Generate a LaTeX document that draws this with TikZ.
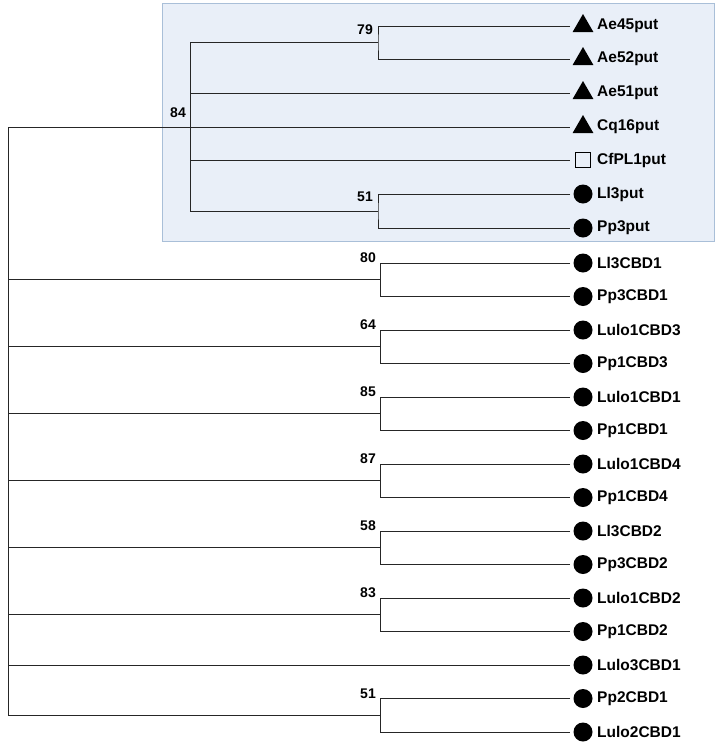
\documentclass[tikz,border=0pt]{standalone}
\usepackage{fontspec}
\setmainfont{Liberation Sans}
\usetikzlibrary{shapes.geometric}
\definecolor{boxfill}{HTML}{E9EFF8}
\definecolor{boxline}{HTML}{A9BFD8}
\begin{document}
\begin{tikzpicture}[x=1pt,y=-1pt,
  br/.style={line width=0.9pt,black!85},
  lab/.style={anchor=west,font=\bfseries\fontsize{15.5}{16}\selectfont,inner sep=0pt},
  bs/.style={anchor=east,font=\bfseries\fontsize{14}{14}\selectfont,inner sep=0pt},
  tri/.style={regular polygon,regular polygon sides=3,fill=black,minimum size=24pt,inner sep=0pt},
  dot/.style={circle,fill=black,minimum width=17pt,minimum height=19pt,inner sep=0pt},
  sq/.style={draw=black,line width=1.8pt,minimum size=15pt,inner sep=0pt}]
\useasboundingbox (0,0) rectangle (716,745);
\draw[boxline,fill=boxfill,line width=0.8pt] (162,3) rectangle (714,241);
\foreach \n/\t/\y/\s in {a/Ae45put/26/tri,b/Ae52put/59/tri,c/Ae51put/93/tri,d/Cq16put/127/tri,e/CfPL1put/160/sq,f/Ll3put/194/dot,g/Pp3put/228/dot}{
  \node[\s] (s\n) at (583,\y) {};
  \node[lab] (l\n) at (597,\y) {\t};
  \coordinate (e\n) at (570,\y);
}
\coordinate (j79) at (378,42);
\coordinate (j51a) at (378,211);
\coordinate (j84) at (190,127);
\coordinate (root) at (8,127);
\draw[br] (ea) -| (j79) |- (eb);
\draw[br] (ef) -| (j51a) |- (eg);
\draw[br] (j79) -- (190,42) -- (190,211) -- (j51a);
\draw[br] (190,93) -- (ec);
\draw[br] (190,160) -- (ee);
\draw[br] (root) -- (ed);
\node[bs] at (186,113) {84};
\node[bs] at (373,30) {79};
\node[bs] at (373,197) {51};
\foreach \t [count=\i from 0] in {Ll3CBD1,Pp3CBD1,Lulo1CBD3,Pp1CBD3,Lulo1CBD1,Pp1CBD1,Lulo1CBD4,Pp1CBD4,Ll3CBD2,Pp3CBD2,Lulo1CBD2,Pp1CBD2,Lulo3CBD1,Pp2CBD1,Lulo2CBD1}{
  \pgfmathsetmacro\yy{263+33.5*\i}
  \node[dot] (d\i) at (583,\yy) {};
  \node[lab] (t\i) at (597,\yy) {\t};
  \coordinate (f\i) at (570,\yy);
}
\foreach \a/\b/\v in {0/1/80,2/3/64,4/5/85,6/7/87,8/9/58,10/11/83,13/14/51}{
  \draw[br] (f\a) -| (380,0 |- f\b) -- (f\b);
  \draw[br] (380,0 |- f\a) -- (f\a);
  \path (f\a) -- (f\b) coordinate[pos=0.5] (m\a);
  \draw[br] (8,0 |- m\a) -- (380,0 |- m\a);
  \node[bs] at ([yshift=5pt]376,0 |- f\a) {\v};
}
\draw[br] (8,0 |- f12) -- (f12);
\draw[br] (root) -- (8,0 |- m13);
\end{tikzpicture}
\end{document}
